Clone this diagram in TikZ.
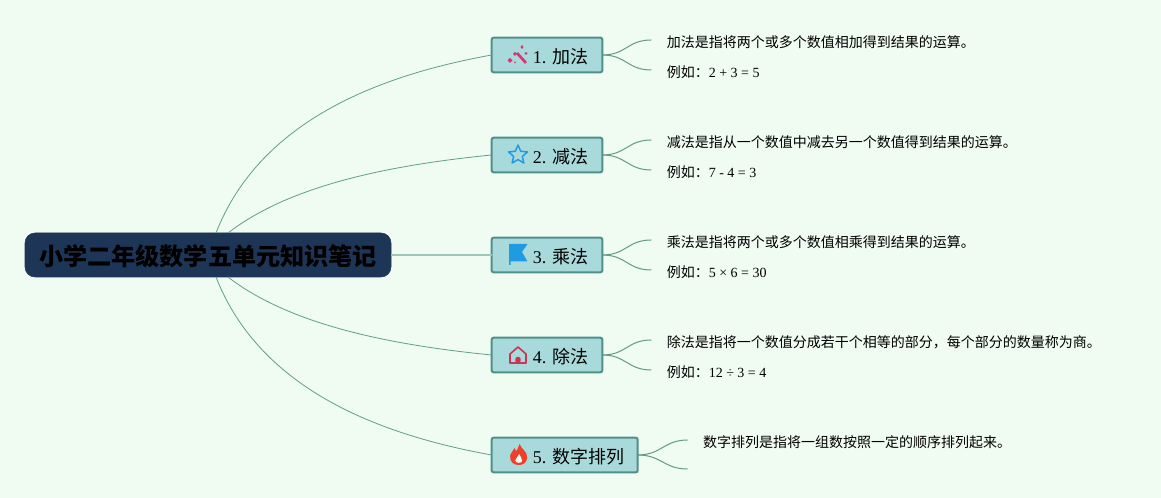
\documentclass[tikz,border=0pt]{standalone}
\usepackage{xcolor}
\usepackage{fontspec}
\setmainfont{Liberation Serif}
\newfontfamily\cjk{Noto Sans CJK SC}
\usetikzlibrary{arrows.meta, positioning}
\definecolor{pagebg}{HTML}{F0FBF2}
\definecolor{rootfill}{HTML}{1D3557}
\definecolor{branchfill}{HTML}{A8DADC}
\definecolor{branchline}{HTML}{4F9088}
\definecolor{edgeline}{HTML}{5F9F8B}
\definecolor{wandpink}{HTML}{D9346F}
\definecolor{starblue}{HTML}{1F9BE2}
\definecolor{housered}{HTML}{CC3355}
\definecolor{flamered}{HTML}{F03E2A}

\begin{document}
\begin{tikzpicture}[
  x=0.75pt, y=-0.75pt,
  root/.style={rectangle, fill=rootfill, draw=rootfill, rounded corners=7.5pt, outer sep=0pt, minimum width=274.5pt, minimum height=33pt, text height=18pt, text depth=1.6pt, font=\cjk\bfseries\fontsize{18.1}{20}\selectfont},
  branch/.style={rectangle, draw=branchline, line width=1.5pt, fill=branchfill, rounded corners=1.5pt, outer sep=0pt, minimum width=83pt, minimum height=26pt, text height=13.8pt, text depth=1pt, font=\fontsize{13.5}{16}\selectfont},
  leaf/.style={inner xsep=11.6pt, inner ysep=0pt, outer sep=0pt, text height=10.6pt, text depth=0pt, font=\fontsize{10.5}{12}\selectfont},
  limb/.style={edgeline, line width=0.6pt},
  trunk/.style={edgeline!60, line width=1.1pt},
  twig/.style={edgeline!85!gray, line width=0.75pt},
  wand/.pic={
    \draw[wandpink, line width=2pt] (-1,-3) -- (8,7);
    \fill[wandpink] (4,-11) -- (5.5,-9) -- (4,-7) -- (2.5,-9) -- cycle;
    \fill[wandpink] (-8,2) -- (-5.5,4.5) -- (-8,7) -- (-10.5,4.5) -- cycle;
    \fill[wandpink] (-3,-4) -- (-1,-2) -- (-3,0) -- (-5,-2) -- cycle;
    \fill[wandpink] (8,-4) -- (9.5,-2.5) -- (8,-1) -- (6.5,-2.5) -- cycle;
    \fill[wandpink] (-3,5.5) -- (-2,6.5) -- (-3,7.5) -- (-4,6.5) -- cycle;
  },
  starshape/.pic={
    \draw[starblue, line width=1.1pt, line join=round] (-90:10) -- (-54:4.6) -- (-18:10) -- (18:4.6) -- (54:10) -- (90:4.6) -- (126:10) -- (162:4.6) -- (198:10) -- (234:4.6) -- cycle;
  },
  flag/.pic={
    \fill[starblue] (-9,-11) -- (9.5,-11) -- (4,-3) -- (9.5,6.5) -- (-7.5,6.5) -- (-7.5,10) -- (-9,10) -- cycle;
  },
  house/.pic={
    \draw[housered, line width=1.2pt, line join=round] (-8,8) -- (-8,-1) -- (0,-8) -- (8,-1) -- (8,8) -- cycle;
    \fill[housered, rounded corners=1.5pt] (-2.6,8) -- (-2.6,2) -- (2.6,2) -- (2.6,8) -- cycle;
  },
  flame/.pic={
    \fill[flamered] (1,-11) .. controls (2,-6) and (9,-4) .. (8.5,3) .. controls (8,8) and (4,10) .. (0,10) .. controls (-5,10) and (-9,7) .. (-8.5,1) .. controls (-8,-3) and (-5,-4) .. (-4,-7) .. controls (-3,-5) and (-2.5,-4) .. (-2,-4) .. controls (-1,-6) and (0,-9) .. (1,-11) -- cycle;
    \fill[pagebg] (0.5,-1) .. controls (1,2) and (4,3) .. (3.5,6) .. controls (3,8.5) and (-3,8.5) .. (-3.5,5.5) .. controls (-3.5,3) and (0,2) .. (0.5,-1) -- cycle;
  },
]
  \useasboundingbox (0,0) rectangle (1161,498);
  \fill[pagebg] (0,0) rectangle (1161,498);

  \node[root] (title) at (208,255) {小学二年级数学五单元知识笔记};
  \coordinate (titleup) at (216,233);
  \coordinate (titleupin) at (228,233);
  \coordinate (titledownin) at (228,277);
  \coordinate (titledown) at (216,277);

  \node[branch] (add) at (547,55) {\hspace*{20.5pt}1. {\cjk 加法}};
  \node[branch, below=49pt of add] (sub) {\hspace*{20.5pt}2. {\cjk 减法}};
  \node[branch, below=49pt of sub] (mul) {\hspace*{20.5pt}3. {\cjk 乘法}};
  \node[branch, below=49pt of mul] (div) {\hspace*{20.5pt}4. {\cjk 除法}};
  \node[branch, minimum width=109.5pt, below=49pt of div.south west, anchor=north west] (order) {\hspace*{21pt}5. {\cjk 数字排列}};

  \pic at ([shift={(-29,1)}]add.center) {wand};
  \pic at ([shift={(-29,0)}]sub.center) {starshape};
  \pic at ([shift={(-29,0)}]mul.center) {flag};
  \pic at ([shift={(-29,0)}]div.center) {house};
  \pic at ([shift={(-46,0)}]order.center) {flame};

  \node[leaf, right=36.75pt of add, yshift=11.25pt] (addtext) {\cjk 加法是指将两个或多个数值相加得到结果的运算。};
  \node[leaf, right=36.75pt of add, yshift=-11.25pt] (addeg) {{\cjk 例如：}2 + 3 = 5};
  \node[leaf, right=36.75pt of sub, yshift=11.25pt] (subtext) {\cjk 减法是指从一个数值中减去另一个数值得到结果的运算。};
  \node[leaf, right=36.75pt of sub, yshift=-11.25pt] (subeg) {{\cjk 例如：}7 - 4 = 3};
  \node[leaf, right=36.75pt of mul, yshift=11.25pt] (multext) {\cjk 乘法是指将两个或多个数值相乘得到结果的运算。};
  \node[leaf, right=36.75pt of mul, yshift=-11.25pt] (muleg) {{\cjk 例如：}5 × 6 = 30};
  \node[leaf, right=36.75pt of div, yshift=11.25pt] (divtext) {\cjk 除法是指将一个数值分成若干个相等的部分，每个部分的数量称为商。};
  \node[leaf, right=36.75pt of div, yshift=-11.25pt] (diveg) {{\cjk 例如：}12 ÷ 3 = 4};
  \node[leaf, right=37.5pt of order, yshift=11.25pt] (ordertext) {\cjk 数字排列是指将一组数按照一定的顺序排列起来。};
  \coordinate[right=37.5pt of order, yshift=-10.5pt] (orderend);

  \draw[limb] (titleup) .. controls +(44,-113) and +(-111,20) .. (add.west);
  \draw[limb] (titleupin) .. controls +(62,-48) and +(-101,10) .. (sub.west);
  \draw[trunk] (title.east) -- (mul.west);
  \draw[limb] (titledownin) .. controls +(62,48) and +(-101,-10) .. (div.west);
  \draw[limb] (titledown) .. controls +(44,113) and +(-111,-20) .. (order.west);

  \draw[twig] (add.east) .. controls +(24,0) and +(-24,0) .. (addtext.west);
  \draw[twig] (add.east) .. controls +(24,0) and +(-24,0) .. (addeg.west);
  \draw[twig] (sub.east) .. controls +(24,0) and +(-24,0) .. (subtext.west);
  \draw[twig] (sub.east) .. controls +(24,0) and +(-24,0) .. (subeg.west);
  \draw[twig] (mul.east) .. controls +(24,0) and +(-24,0) .. (multext.west);
  \draw[twig] (mul.east) .. controls +(24,0) and +(-24,0) .. (muleg.west);
  \draw[twig] (div.east) .. controls +(24,0) and +(-24,0) .. (divtext.west);
  \draw[twig] (div.east) .. controls +(24,0) and +(-24,0) .. (diveg.west);
  \draw[twig] (order.east) .. controls +(24,0) and +(-24,0) .. (ordertext.west);
  \draw[twig] (order.east) .. controls +(24,0) and +(-24,0) .. (orderend);
\end{tikzpicture}
\end{document}
